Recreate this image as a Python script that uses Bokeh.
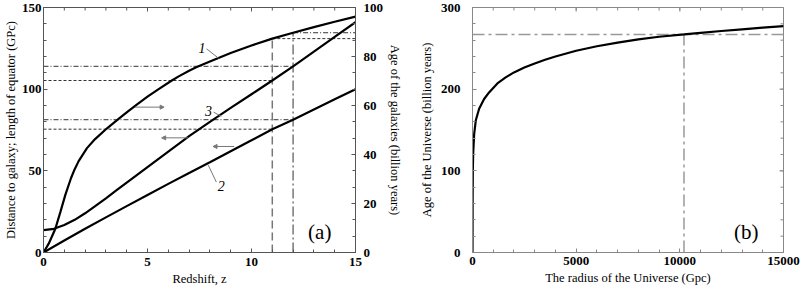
import math
from bokeh.plotting import figure
from bokeh.models import Range1d, LinearAxis, FixedTicker, Arrow, NormalHead
from bokeh.layouts import row
from bokeh.core.properties import value
from bokeh.embed import file_html
from bokeh.resources import INLINE

# ---------------- data: panel (a) ----------------
# curve 1: age of galaxies (billion years, right axis) vs redshift
z1 = [0, 0.25, 0.57, 0.81, 1.05, 1.32, 1.5, 1.69, 2.09, 2.48, 3.04, 3.55, 4, 4.5,
      5, 5.5, 6.15, 6.5, 7, 7.34, 8, 9, 10, 11, 12, 13, 14, 15]
age1 = [0, 3.6, 9.7, 16.5, 23.5, 30.3, 34.0, 37.3, 42.6, 46.3, 50.6, 54.1, 57.2,
        60.5, 63.6, 66.5, 70.1, 71.9, 74.2, 75.6, 78.0, 81.4, 84.5, 87.3, 89.7,
        92.0, 94.2, 96.3]
# curve 3: length of equator (GPc, left axis)
z3 = [0, 0.5, 1, 1.5, 2, 2.5, 3, 3.5, 4, 5, 6, 7, 8, 9, 10, 11, 12, 13, 14, 15]
len3 = [13.7, 14.5, 16.8, 20.0, 24.0, 28.5, 33.2, 38.0, 42.8, 52.3, 61.8, 71.2,
        80.0, 88.5, 96.9, 105.3, 114.0, 123.0, 132.0, 141.0]
# curve 2: distance to galaxy (GPc, left axis)
z2 = [0, 1, 2, 3, 4, 5, 6, 7, 8, 9, 10, 11, 12, 13, 14, 15]
dist2 = [0, 7.3, 14.5, 21.5, 28.4, 35.2, 42.0, 48.7, 55.3, 62.0, 68.7, 75.5,
         81.3, 87.6, 93.8, 100.0]
# marked redshifts and values read at them
z_marks = [11, 12]
age_at_marks = [87.3, 89.7]      # curve 1, right axis
len_at_marks = [105.3, 114.0]    # curve 3, left axis
dist_at_marks = [75.5, 81.3]     # curve 2, left axis

# curve labels (z, left-axis value) and leader lines
curve_label_text = ["1", "3", "2"]
curve_label_z = [7.62, 7.93, 8.55]
curve_label_y = [125.5, 86.6, 40.7]
leader_z0 = [7.84, 8.18, 8.31]
leader_y0 = [124.7, 85.9, 43.1]
leader_z1 = [8.42, 8.55, 7.92]
leader_y1 = [118.9, 83.4, 53.5]
# arrows (z, left-axis value)
arrow_z0 = [4.4, 6.96, 9.17]
arrow_z1 = [5.8, 5.68, 8.15]
arrow_y = [89.0, 70.2, 64.9]

# ---------------- data: panel (b) ----------------
radius = [0, 5, 15, 32, 80, 160, 320, 560, 800, 1200, 1600, 2000, 2500, 3000,
          3500, 4000, 5000, 6000, 7000, 8000, 9000, 10200, 11000, 12000, 13000,
          14000, 15000]
age_u = [0, 60, 100, 121, 145, 162, 176, 188, 196, 207, 214.5, 220.5, 226.5,
         231.5, 236, 240, 247, 252.5, 257, 261, 264.2, 267, 269, 271.2, 273.3,
         275.3, 277.2]
radius_mark = 10200
age_mark = 267

# axis extents and ticks
za_max, la_max, aa_max = 15, 150, 100
xt_major = [0, 5, 10, 15]
xt_minor = list(range(0, 16))
yl_major = [0, 50, 100, 150]
yl_minor = list(range(0, 151, 10))
yr_major = [0, 20, 40, 60, 80, 100]
yr_minor = [k * 20 / 3 for k in range(16)]

rb_max, ab_max = 15000, 300
bx_major = [0, 5000, 10000, 15000]
bx_minor = list(range(0, 15001, 1000))
by_major = [0, 100, 200, 300]
by_minor = list(range(0, 301, 20))

SERIF = "Liberation Serif"


def style_axis(ax, major, minor, color, standoff=4, label_standoff=3):
    ax.ticker = FixedTicker(ticks=major, minor_ticks=minor)
    ax.major_tick_in = 4
    ax.major_tick_out = 0
    ax.minor_tick_in = 3
    ax.minor_tick_out = 0
    ax.axis_line_color = color
    ax.major_tick_line_color = color
    ax.minor_tick_line_color = color
    ax.major_label_text_font = SERIF
    ax.major_label_text_font_style = "bold"
    ax.major_label_text_font_size = "13px"
    ax.major_label_text_color = "black"
    ax.major_label_standoff = standoff
    ax.axis_label_text_font = SERIF
    ax.axis_label_text_font_style = "normal"
    ax.axis_label_text_font_size = "12.5px"
    ax.axis_label_text_color = "black"
    ax.axis_label_standoff = label_standoff


def edge_ticks(p, positions, fixed, horizontal, angle, color, length):
    if horizontal:
        xs, ys = positions, [fixed] * len(positions)
    else:
        xs, ys = [fixed] * len(positions), positions
    p.ray(x=xs, y=ys, length=length, length_units="screen", angle=angle,
          line_color=color, line_width=1)


# ================= panel (a) =================
frame_a = "#555555"
pa = figure(width=405, height=290, output_backend="svg", toolbar_location=None,
            x_range=Range1d(0, za_max), y_range=Range1d(0, la_max),
            min_border_left=41, min_border_right=50, min_border_top=7,
            min_border_bottom=38)
pa.extra_y_ranges = {"age": Range1d(0, aa_max)}
pa.xgrid.visible = False
pa.ygrid.visible = False
pa.outline_line_color = frame_a
pa.background_fill_color = "white"
pa.border_fill_color = "white"

style_axis(pa.xaxis[0], xt_major, xt_minor, frame_a, standoff=5)
pa.xaxis[0].axis_label = "Redshift, z"
style_axis(pa.yaxis[0], yl_major, yl_minor, frame_a, standoff=2, label_standoff=1)
pa.yaxis[0].axis_label = "Distance to galaxy; length of equator (GPc)"

right_a = LinearAxis(y_range_name="age", axis_label="Age of the galaxies (billion years)")
style_axis(right_a, yr_major, yr_minor, frame_a, standoff=8, label_standoff=2)
pa.add_layout(right_a, "right")

# ticks along the top edge
edge_ticks(pa, xt_minor, la_max, True, -math.pi / 2, frame_a, 3)
edge_ticks(pa, xt_major, la_max, True, -math.pi / 2, frame_a, 4)

# reference lines
vcol = "#777777"
hcol = "#333333"
vdash = ["8 4", "10 3 2 3"]
hdash = ["3 2", "5 2 1 2"]
for zm, a1, l3, d2, vd, hd in zip(z_marks, age_at_marks, len_at_marks,
                                  dist_at_marks, vdash, hdash):
    pa.segment(x0=[zm], y0=[0], x1=[zm], y1=[a1], y_range_name="age",
               line_color=vcol, line_width=1.5, line_dash=vd)
    pa.segment(x0=[zm], y0=[a1], x1=[za_max], y1=[a1], y_range_name="age",
               line_color=hcol, line_width=1, line_dash=hd)
    pa.segment(x0=[0, 0], y0=[l3, d2], x1=[zm, zm], y1=[l3, d2],
               line_color=hcol, line_width=1, line_dash=hd)

# curves
pa.line(z1, age1, y_range_name="age", line_color="black", line_width=2.2)
pa.line(z3, len3, line_color="black", line_width=2.2)
pa.line(z2, dist2, line_color="black", line_width=2.2)

# leader lines and curve labels
pa.segment(x0=leader_z0, y0=leader_y0, x1=leader_z1, y1=leader_y1,
           line_color="#777777", line_width=1)
pa.text(x=curve_label_z, y=curve_label_y, text=curve_label_text,
        text_font=value(SERIF), text_font_style="italic", text_font_size="14px",
        text_align="center", text_baseline="middle", text_color="black")

# arrows
for xs, xe, ya in zip(arrow_z0, arrow_z1, arrow_y):
    pa.add_layout(Arrow(end=NormalHead(size=4, line_color="#777777",
                                       fill_color="#777777", line_width=1),
                        x_start=xs, y_start=ya, x_end=xe, y_end=ya,
                        line_color="#777777", line_width=1))

pa.text(x=[13.28], y=[12.5], text=["(a)"], text_font=value(SERIF),
        text_font_size="21px", text_align="center", text_baseline="middle",
        text_color="black")

# ================= panel (b) =================
frame_b = "#888888"
pb = figure(width=396, height=290, output_backend="svg", toolbar_location=None,
            x_range=Range1d(0, rb_max), y_range=Range1d(0, ab_max),
            min_border_left=67, min_border_right=18, min_border_top=7,
            min_border_bottom=38)
pb.xgrid.visible = False
pb.ygrid.visible = False
pb.outline_line_color = frame_b
pb.background_fill_color = "white"
pb.border_fill_color = "white"

style_axis(pb.xaxis[0], bx_major, bx_minor, frame_b, standoff=4)
pb.xaxis[0].axis_label = "The radius of the Universe (Gpc)"
style_axis(pb.yaxis[0], by_major, by_minor, frame_b, standoff=12, label_standoff=4)
pb.yaxis[0].axis_label = "Age of the Universe (billion years)"

edge_ticks(pb, bx_minor, ab_max, True, -math.pi / 2, frame_b, 3)
edge_ticks(pb, bx_major, ab_max, True, -math.pi / 2, frame_b, 4)
edge_ticks(pb, by_minor, rb_max, False, math.pi, frame_b, 3)
edge_ticks(pb, by_major, rb_max, False, math.pi, frame_b, 4)

pb.segment(x0=[0], y0=[age_mark], x1=[rb_max], y1=[age_mark],
           line_color="#999999", line_width=1.5, line_dash="12 4 3 4")
pb.segment(x0=[radius_mark], y0=[0], x1=[radius_mark], y1=[age_mark],
           line_color="#999999", line_width=1.5, line_dash="12 4 3 4")
pb.line(radius, age_u, line_color="black", line_width=2.2)
pb.text(x=[13200], y=[25], text=["(b)"], text_font=value(SERIF),
        text_font_size="21px", text_align="center", text_baseline="middle",
        text_color="black")

layout = row(pa, pb)
open("out.html", "w").write(file_html(layout, INLINE))
